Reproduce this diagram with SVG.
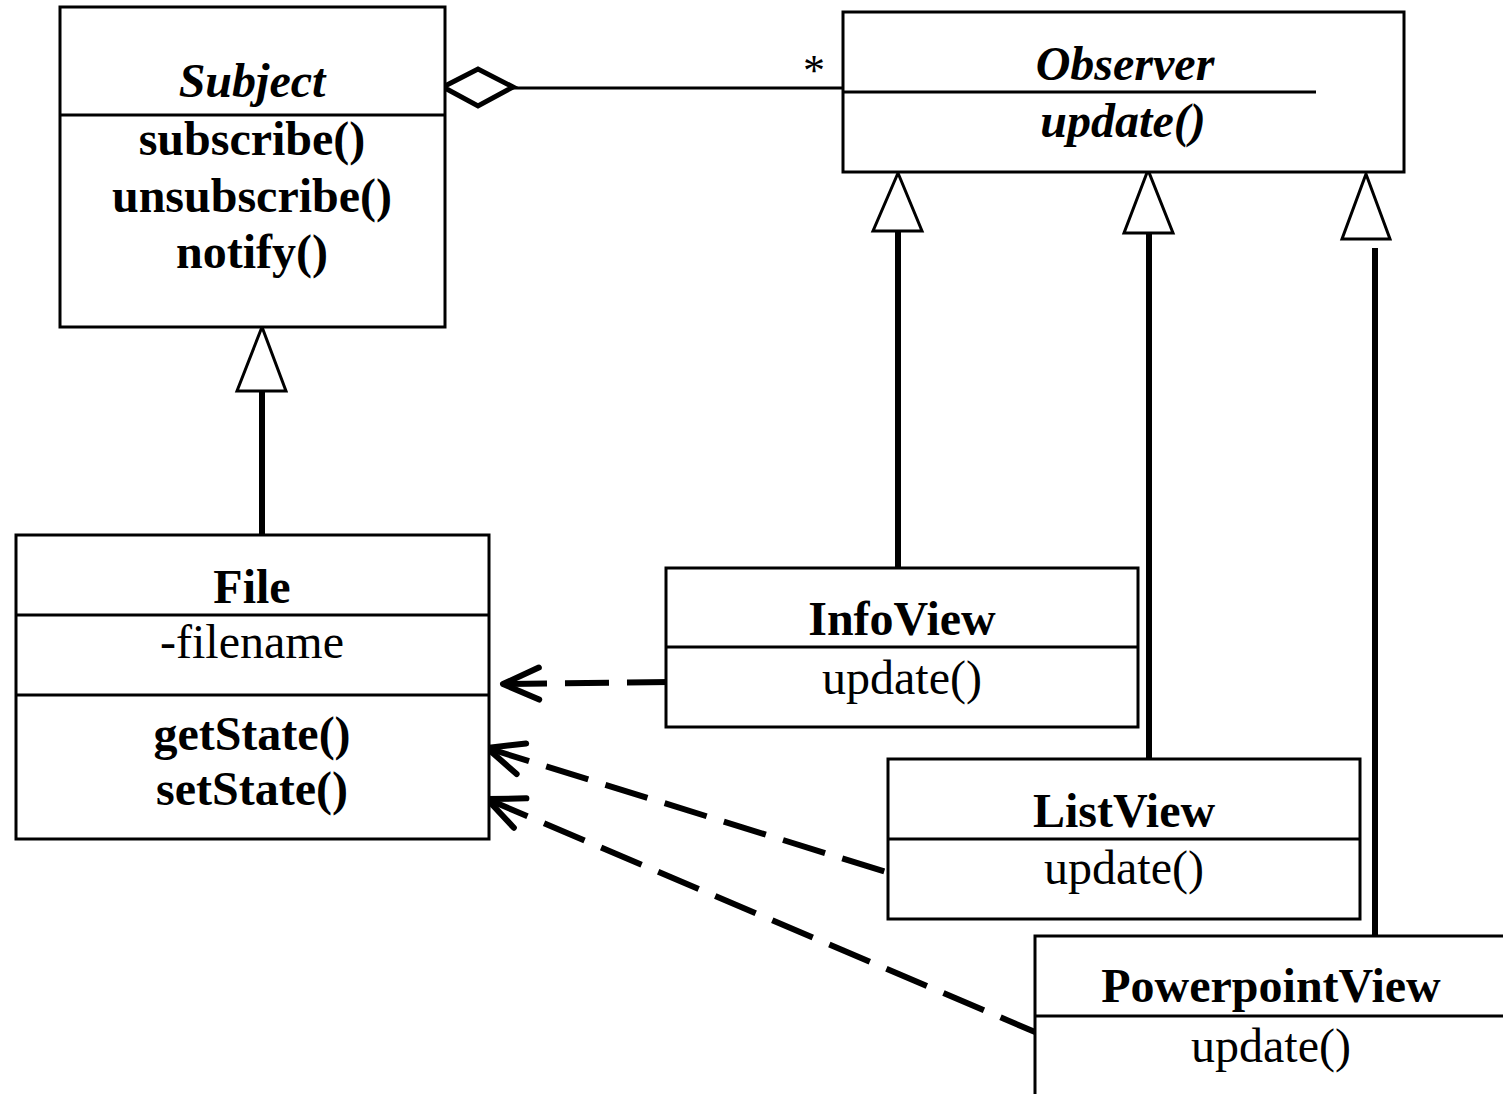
<svg xmlns="http://www.w3.org/2000/svg" width="1503" height="1094" viewBox="0 0 1503 1094">
  <style>
    .box { fill: #ffffff; stroke: #000000; stroke-width: 3; }
    .sep { fill: none; stroke: #000000; stroke-width: 3; }
    .t { font-family: "Liberation Serif", "Times New Roman", serif; font-size: 48px; fill: #000000; text-anchor: middle; }
    .b { font-weight: bold; }
    .i { font-style: italic; }
    .assoc { fill: none; stroke: #000000; stroke-width: 3; }
    .diamond { fill: #ffffff; stroke: #000000; stroke-width: 5; stroke-linejoin: miter; }
    .gen { fill: none; stroke: #000000; stroke-width: 6; }
    .tri { fill: #ffffff; stroke: #000000; stroke-width: 3; stroke-linejoin: miter; }
    .dep { fill: none; stroke: #000000; stroke-width: 6; stroke-dasharray: 44 18; }
    .head { fill: none; stroke: #000000; stroke-width: 6; stroke-linecap: round; stroke-linejoin: round; stroke-dasharray: none; }
  </style>
  <defs>
    <!-- open arrowhead placed at the start of a dependency path -->
    <marker id="open" markerUnits="userSpaceOnUse" orient="auto" refX="0" refY="0" markerWidth="60" markerHeight="60" viewBox="-10 -30 60 60" overflow="visible">
      <path class="head" d="M36,-16 L0,0 L36,16"/>
    </marker>
  </defs>

  <rect width="1503" height="1094" fill="#ffffff"/>

  <!-- connectors -->
  <g id="connectors">
    <!-- aggregation: Subject holds many Observers -->
    <line class="assoc" x1="513" y1="88" x2="843" y2="88"/>
    <polygon class="diamond" points="443,87 478,69 513,87 478,106"/>
    <text class="t" x="814" y="85" style="font-size:44px">*</text>

    <!-- File extends Subject -->
    <line class="gen" x1="262" y1="391" x2="262" y2="535"/>
    <polygon class="tri" points="262,327 237,391 286,391"/>

    <!-- views implement Observer -->
    <line class="gen" x1="898" y1="231" x2="898" y2="568"/>
    <polygon class="tri" points="898,173 873,231 922,231"/>
    <line class="gen" x1="1149" y1="233" x2="1149" y2="759"/>
    <polygon class="tri" points="1148,170 1124,233 1173,233"/>
    <line class="gen" x1="1375" y1="248" x2="1375" y2="936"/>
    <polygon class="tri" points="1366,174 1342,239 1390,239"/>

    <!-- dependencies on File -->
    <path class="dep" d="M503,684 L673,682" marker-start="url(#open)"/>
    <path class="dep" d="M487,748 L886,872" marker-start="url(#open)"/>
    <path class="dep" d="M487,799 L1042,1035" marker-start="url(#open)"/>
  </g>

  <g id="subject">
    <rect class="box" x="60" y="7" width="385" height="320"/>
    <line class="sep" x1="60" y1="115" x2="445" y2="115"/>
    <text class="t b i" x="252" y="97">Subject</text>
    <text class="t b" x="252" y="155">subscribe()</text>
    <text class="t b" x="252" y="212">unsubscribe()</text>
    <text class="t b" x="252" y="268">notify()</text>
  </g>

  <g id="observer">
    <rect class="box" x="843" y="12" width="561" height="160"/>
    <line class="sep" x1="843" y1="92" x2="1316" y2="92"/>
    <text class="t b i" x="1125" y="80">Observer</text>
    <text class="t b i" x="1123" y="137">update()</text>
  </g>

  <g id="file">
    <rect class="box" x="16" y="535" width="473" height="304"/>
    <line class="sep" x1="16" y1="615" x2="489" y2="615"/>
    <line class="sep" x1="16" y1="695" x2="489" y2="695"/>
    <text class="t b" x="252" y="603">File</text>
    <text class="t" x="252" y="658">-filename</text>
    <text class="t b" x="252" y="750">getState()</text>
    <text class="t b" x="252" y="805">setState()</text>
  </g>

  <g id="infoview">
    <rect class="box" x="666" y="568" width="472" height="159"/>
    <line class="sep" x1="666" y1="647" x2="1138" y2="647"/>
    <text class="t b" x="902" y="635">InfoView</text>
    <text class="t" x="902" y="694">update()</text>
  </g>

  <g id="listview">
    <rect class="box" x="888" y="759" width="472" height="160"/>
    <line class="sep" x1="888" y1="839" x2="1360" y2="839"/>
    <text class="t b" x="1124" y="827">ListView</text>
    <text class="t" x="1124" y="884">update()</text>
  </g>

  <g id="powerpointview">
    <rect class="box" x="1035" y="936" width="472" height="170"/>
    <line class="sep" x1="1035" y1="1016" x2="1507" y2="1016"/>
    <text class="t b" x="1271" y="1002">PowerpointView</text>
    <text class="t" x="1271" y="1062">update()</text>
  </g>
</svg>
